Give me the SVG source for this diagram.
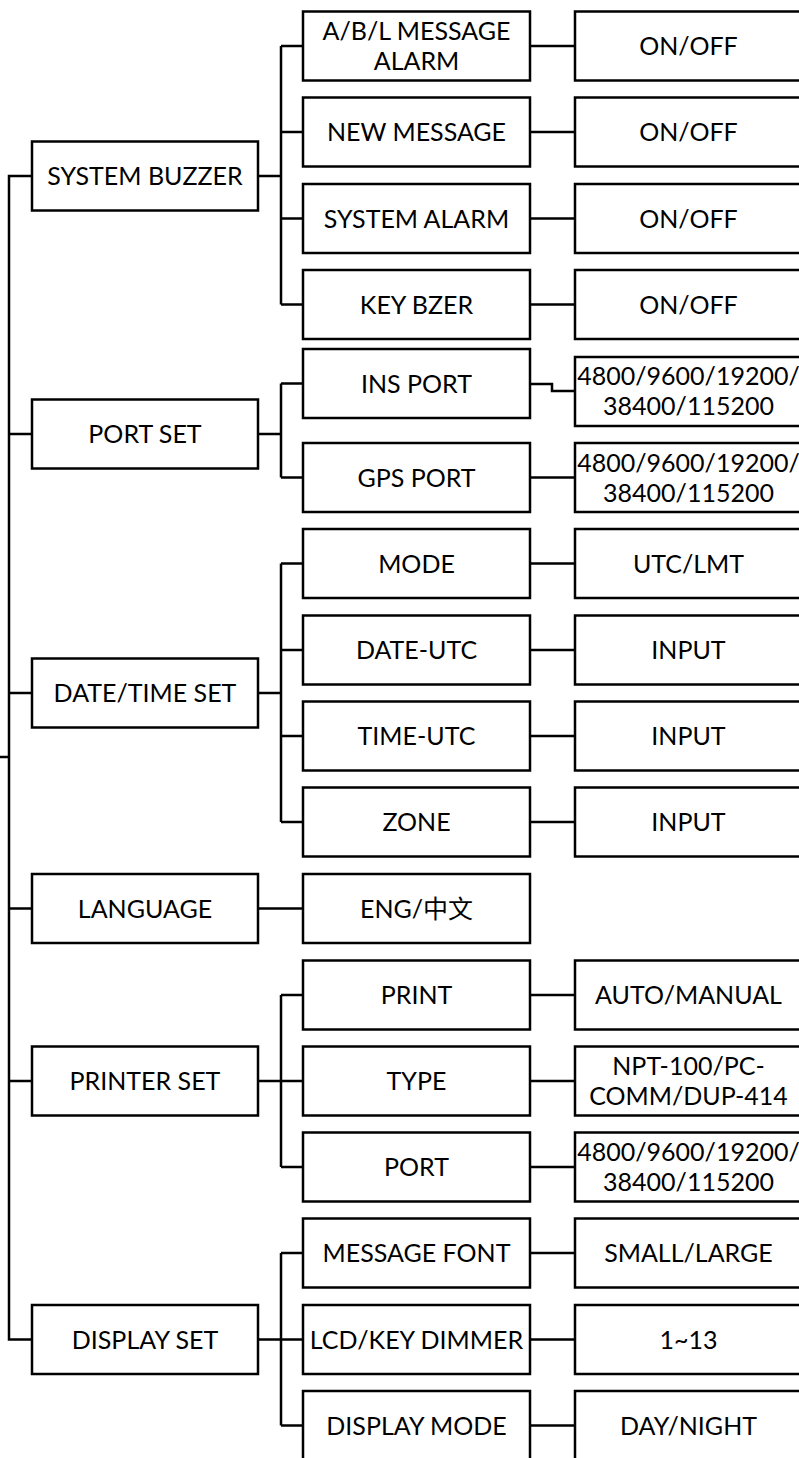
<svg xmlns="http://www.w3.org/2000/svg" width="799" height="1458" viewBox="0 0 799 1458">
  <style>
    .box { fill: #fff; stroke: #000; stroke-width: 2.5; }
    .wire { fill: none; stroke: #000; stroke-width: 2.5; }
    text { font-family: Lato, "Open Sans", "Noto Sans CJK SC", sans-serif; font-size: 25px; fill: #000; text-anchor: middle; }
  </style>

  <!-- connectors -->
  <g id="connectors" class="wire">
    <!-- main trunk -->
    <path d="M32 176 H9 V1339.5 H32"/>
    <path d="M0 757 H9"/>
    <path d="M9 434 H32 M9 693 H32 M9 908.5 H32 M9 1081 H32"/>
    <!-- SYSTEM BUZZER branch -->
    <path d="M258 176 H281 M281 46 V304.5 M281 46 H303 M281 132 H303 M281 218.5 H303 M281 304.5 H303"/>
    <!-- PORT SET branch -->
    <path d="M258 434 H281 M281 383.5 V477.5 M281 383.5 H303 M281 477.5 H303"/>
    <!-- DATE/TIME SET branch -->
    <path d="M258 693 H281 M281 563.5 V822 M281 563.5 H303 M281 650 H303 M281 736 H303 M281 822 H303"/>
    <!-- LANGUAGE -->
    <path d="M258 908.5 H303"/>
    <!-- PRINTER SET branch -->
    <path d="M258 1081 H281 M281 995 V1167 M281 995 H303 M281 1081 H303 M281 1167 H303"/>
    <!-- DISPLAY SET branch -->
    <path d="M258 1339.5 H281 M281 1253 V1425.5 M281 1253 H303 M281 1339.5 H303 M281 1425.5 H303"/>
    <!-- value links -->
    <path d="M530 46 H575 M530 132 H575 M530 218.5 H575 M530 304.5 H575"/>
    <path d="M530 384 H552 V391 H575"/>
    <path d="M530 477.5 H575"/>
    <path d="M530 563.5 H575 M530 650 H575 M530 736 H575 M530 822 H575"/>
    <path d="M530 995 H575 M530 1081 H575 M530 1167 H575"/>
    <path d="M530 1253 H575 M530 1339.5 H575 M530 1425.5 H575"/>
  </g>

  <!-- top-level menu items -->
  <g id="system-buzzer"><rect class="box" x="32" y="141.5" width="226" height="69"/><text x="145" y="185">SYSTEM BUZZER</text></g>
  <g id="port-set"><rect class="box" x="32" y="399.5" width="226" height="69"/><text x="145" y="443">PORT SET</text></g>
  <g id="date-time-set"><rect class="box" x="32" y="658.5" width="226" height="69"/><text x="145" y="702">DATE/TIME SET</text></g>
  <g id="language"><rect class="box" x="32" y="874" width="226" height="69"/><text x="145" y="917.5">LANGUAGE</text></g>
  <g id="printer-set"><rect class="box" x="32" y="1046.5" width="226" height="69"/><text x="145" y="1090">PRINTER SET</text></g>
  <g id="display-set"><rect class="box" x="32" y="1305" width="226" height="69"/><text x="145" y="1348.5">DISPLAY SET</text></g>

  <!-- second-level items -->
  <g id="abl-alarm"><rect class="box" x="303" y="11.5" width="227" height="69"/><text x="416.5" y="39.5">A/B/L MESSAGE</text><text x="416.5" y="69.5">ALARM</text></g>
  <g id="new-message"><rect class="box" x="303" y="97.5" width="227" height="69"/><text x="416.5" y="141">NEW MESSAGE</text></g>
  <g id="system-alarm"><rect class="box" x="303" y="184" width="227" height="69"/><text x="416.5" y="227.5">SYSTEM ALARM</text></g>
  <g id="key-bzer"><rect class="box" x="303" y="270" width="227" height="69"/><text x="416.5" y="313.5">KEY BZER</text></g>
  <g id="ins-port"><rect class="box" x="303" y="349" width="227" height="69"/><text x="416.5" y="392.5">INS PORT</text></g>
  <g id="gps-port"><rect class="box" x="303" y="443" width="227" height="69"/><text x="416.5" y="486.5">GPS PORT</text></g>
  <g id="mode"><rect class="box" x="303" y="529" width="227" height="69"/><text x="416.5" y="572.5">MODE</text></g>
  <g id="date-utc"><rect class="box" x="303" y="615.5" width="227" height="69"/><text x="416.5" y="659">DATE-UTC</text></g>
  <g id="time-utc"><rect class="box" x="303" y="701.5" width="227" height="69"/><text x="416.5" y="745">TIME-UTC</text></g>
  <g id="zone"><rect class="box" x="303" y="787.5" width="227" height="69"/><text x="416.5" y="831">ZONE</text></g>
  <g id="eng-cn"><rect class="box" x="303" y="874" width="227" height="69"/><text x="416.5" y="917.5">ENG/中文</text></g>
  <g id="print"><rect class="box" x="303" y="960.5" width="227" height="69"/><text x="416.5" y="1004">PRINT</text></g>
  <g id="type"><rect class="box" x="303" y="1046.5" width="227" height="69"/><text x="416.5" y="1090">TYPE</text></g>
  <g id="port"><rect class="box" x="303" y="1132.5" width="227" height="69"/><text x="416.5" y="1176">PORT</text></g>
  <g id="message-font"><rect class="box" x="303" y="1218.5" width="227" height="69"/><text x="416.5" y="1262">MESSAGE FONT</text></g>
  <g id="lcd-key-dimmer"><rect class="box" x="303" y="1305" width="227" height="69"/><text x="416.5" y="1348.5">LCD/KEY DIMMER</text></g>
  <g id="display-mode"><rect class="box" x="303" y="1391" width="227" height="69"/><text x="416.5" y="1434.5">DISPLAY MODE</text></g>

  <!-- values -->
  <g id="abl-alarm-value"><rect class="box" x="575" y="11.5" width="227" height="69"/><text x="688.5" y="55">ON/OFF</text></g>
  <g id="new-message-value"><rect class="box" x="575" y="97.5" width="227" height="69"/><text x="688.5" y="141">ON/OFF</text></g>
  <g id="system-alarm-value"><rect class="box" x="575" y="184" width="227" height="69"/><text x="688.5" y="227.5">ON/OFF</text></g>
  <g id="key-bzer-value"><rect class="box" x="575" y="270" width="227" height="69"/><text x="688.5" y="313.5">ON/OFF</text></g>
  <g id="ins-port-value"><rect class="box" x="575" y="357" width="227" height="69"/><text x="688.5" y="385">4800/9600/19200/</text><text x="688.5" y="415">38400/115200</text></g>
  <g id="gps-port-value"><rect class="box" x="575" y="443" width="227" height="69"/><text x="688.5" y="471.5">4800/9600/19200/</text><text x="688.5" y="501.5">38400/115200</text></g>
  <g id="mode-value"><rect class="box" x="575" y="529" width="227" height="69"/><text x="688.5" y="572.5">UTC/LMT</text></g>
  <g id="date-utc-value"><rect class="box" x="575" y="615.5" width="227" height="69"/><text x="688.5" y="659">INPUT</text></g>
  <g id="time-utc-value"><rect class="box" x="575" y="701.5" width="227" height="69"/><text x="688.5" y="745">INPUT</text></g>
  <g id="zone-value"><rect class="box" x="575" y="787.5" width="227" height="69"/><text x="688.5" y="831">INPUT</text></g>
  <g id="print-value"><rect class="box" x="575" y="960.5" width="227" height="69"/><text x="688.5" y="1004">AUTO/MANUAL</text></g>
  <g id="type-value"><rect class="box" x="575" y="1046.5" width="227" height="69"/><text x="688.5" y="1075">NPT-100/PC-</text><text x="688.5" y="1105">COMM/DUP-414</text></g>
  <g id="port-value"><rect class="box" x="575" y="1132.5" width="227" height="69"/><text x="688.5" y="1161">4800/9600/19200/</text><text x="688.5" y="1191">38400/115200</text></g>
  <g id="message-font-value"><rect class="box" x="575" y="1218.5" width="227" height="69"/><text x="688.5" y="1262">SMALL/LARGE</text></g>
  <g id="lcd-key-dimmer-value"><rect class="box" x="575" y="1305" width="227" height="69"/><text x="688.5" y="1348.5">1~13</text></g>
  <g id="display-mode-value"><rect class="box" x="575" y="1391" width="227" height="69"/><text x="688.5" y="1434.5">DAY/NIGHT</text></g>
</svg>
